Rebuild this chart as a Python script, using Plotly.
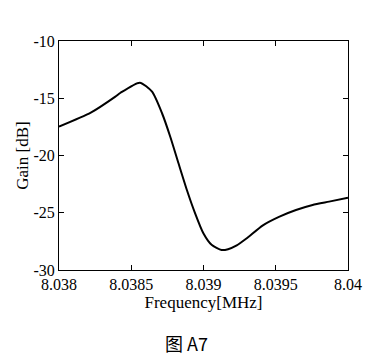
import plotly.graph_objects as go

freq_mhz = [8.038000, 8.038220, 8.038390, 8.038426, 8.038559, 8.038644, 8.038713,
            8.038770, 8.038827, 8.038885, 8.038942, 8.038999, 8.039056, 8.039125,
            8.039170, 8.039230, 8.039297, 8.039411, 8.039526, 8.039640, 8.039755,
            8.039869, 8.040000]
gain_db = [-17.48, -16.26, -14.86, -14.52, -13.64, -14.43, -16.31,
           -18.36, -20.68, -23.01, -25.05, -26.79, -27.80, -28.25,
           -28.18, -27.85, -27.25, -26.10, -25.34, -24.76, -24.32,
           -24.03, -23.69]

x_ticks = [8.038, 8.0385, 8.039, 8.0395, 8.04]
x_tick_text = ["8.038", "8.0385", "8.039", "8.0395", "8.04"]
y_ticks = [-30, -25, -20, -15, -10]
y_tick_text = ["-30", "-25", "-20", "-15", "-10"]

fig = go.Figure()
fig.add_trace(go.Scatter(x=freq_mhz, y=gain_db, mode="lines",
                         line=dict(color="black", width=2, shape="spline", smoothing=0.6),
                         showlegend=False))

serif = "'Liberation Serif', 'Times New Roman', Times, serif"
axis_common = dict(showline=True, linecolor="black", linewidth=1, mirror="ticks",
                   ticks="inside", ticklen=5, tickcolor="black", showgrid=False,
                   zeroline=False, tickfont=dict(family=serif, size=16, color="black"))

fig.update_layout(
    width=374, height=361,
    margin=dict(l=59, r=24, t=41, b=91),
    paper_bgcolor="white", plot_bgcolor="white",
    font=dict(family=serif, color="black"),
    xaxis=dict(range=[8.038, 8.04], tickvals=x_ticks, ticktext=x_tick_text,
               title=dict(text="Frequency[MHz]", font=dict(family=serif, size=17, color="black"), standoff=0),
               **axis_common),
    yaxis=dict(range=[-30, -10], tickvals=y_ticks, ticktext=y_tick_text,
               title=dict(text="Gain [dB]", font=dict(family=serif, size=17, color="black"), standoff=0),
               **axis_common),
    annotations=[dict(text="图 A7", xref="paper", yref="paper", x=0.44, y=-0.32,
                      xanchor="center", yanchor="middle", showarrow=False,
                      font=dict(family="Noto Sans CJK SC", size=18, color="black"))],
)

fig.write_html("out.html", config={"displayModeBar": False},
               post_script="document.body.style.margin='0';document.body.style.overflow='hidden';")
